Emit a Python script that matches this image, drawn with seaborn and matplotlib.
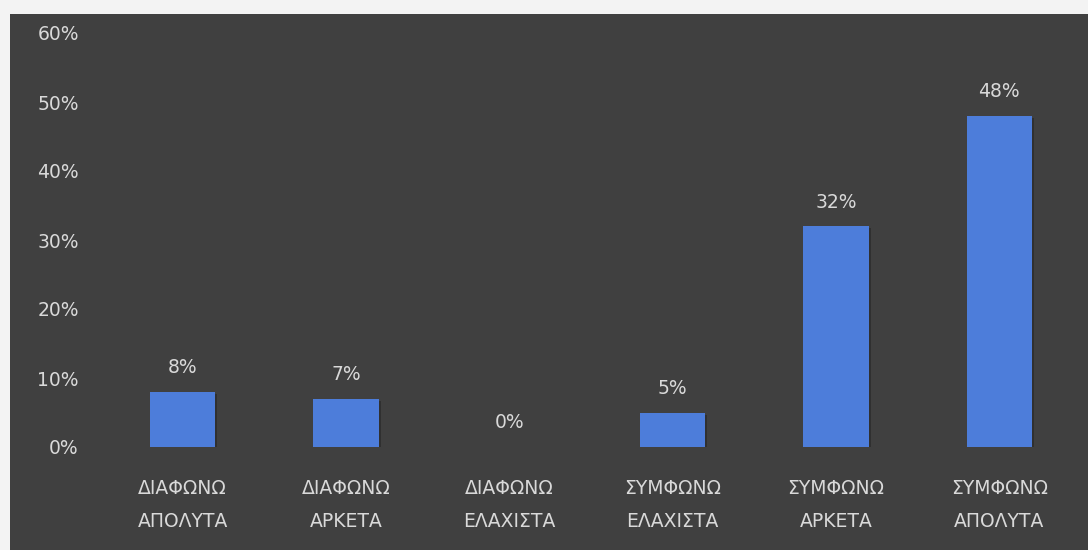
import matplotlib
matplotlib.use("Agg")
import matplotlib.pyplot as plt
import matplotlib.patches as mpatches
import matplotlib.patheffects as pe
import seaborn as sns
import pandas as pd

categories = ["ΔΙΑΦΩΝΩ\nΑΠΟΛΥΤΑ", "ΔΙΑΦΩΝΩ\nΑΡΚΕΤΑ", "ΔΙΑΦΩΝΩ\nΕΛΑΧΙΣΤΑ",
              "ΣΥΜΦΩΝΩ\nΕΛΑΧΙΣΤΑ", "ΣΥΜΦΩΝΩ\nΑΡΚΕΤΑ", "ΣΥΜΦΩΝΩ\nΑΠΟΛΥΤΑ"]
values = [8, 7, 0, 5, 32, 48]
y_ticks = [0, 10, 20, 30, 40, 50, 60]
y_tick_labels = [f"{t}%" for t in y_ticks]

BG = "#404040"
BAR = "#4d7dda"
TXT = "#d9d9d9"
FS = 13.5

sns.set_theme(style="dark")
plt.rcParams["font.family"] = ["DejaVu Sans"]

fig = plt.figure(figsize=(10.88, 5.5), dpi=100, facecolor="#f3f3f3")
# dark panel framed by a thin light margin on the top and left
panel = mpatches.Rectangle((10 / 1088, 0), 1, 1 - 14 / 550,
                           transform=fig.transFigure,
                           facecolor=BG, edgecolor="none", zorder=-10)
fig.add_artist(panel)

ax = fig.add_axes([101 / 1088, 103 / 550, 980 / 1088, 414 / 550])
ax.set_facecolor(BG)
ax.set_zorder(1)

df = pd.DataFrame({"category": categories, "value": values})
sns.barplot(data=df, x="category", y="value", color=BAR, width=0.4,
            saturation=1, linewidth=0, ax=ax, zorder=3)

for bar in ax.patches:
    bar.set_path_effects([pe.SimplePatchShadow(offset=(1.5, -1.5), shadow_rgbFace="#262626",
                                               alpha=0.6), pe.Normal()])

for bar, v in zip(ax.patches, values):
    ax.annotate(f"{v}%", (bar.get_x() + bar.get_width() / 2, bar.get_height()),
                xytext=(0, 10.5), textcoords="offset points", ha="center", va="bottom",
                color=TXT, fontsize=FS)

ax.set_ylim(0, 60)
ax.set_xlim(-0.5, len(categories) - 0.5)
ax.set_yticks(y_ticks)
ax.set_yticklabels(y_tick_labels)
ax.set_xlabel("")
ax.set_ylabel("")
ax.grid(False)
for s in ax.spines.values():
    s.set_visible(False)
ax.tick_params(axis="y", length=0, pad=16, colors=TXT, labelsize=FS)
ax.tick_params(axis="x", length=0, pad=23, colors=TXT, labelsize=FS)
for lbl in ax.get_xticklabels():
    lbl.set_linespacing(1.95)

fig.savefig("out.png", dpi=100, facecolor=fig.get_facecolor())
